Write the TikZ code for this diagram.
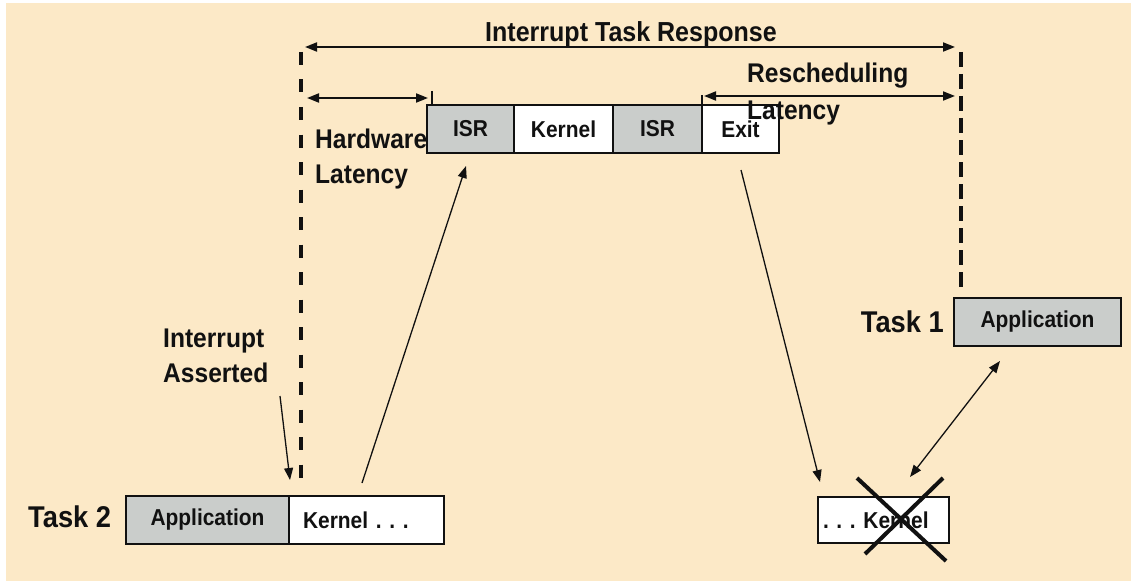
\documentclass[tikz,border=0pt]{standalone}
\usepackage{fontspec}
\setmainfont{Liberation Sans}[FakeStretch=0.91]
\usetikzlibrary{arrows.meta}
\definecolor{paper}{RGB}{252,233,199}
\definecolor{shade}{RGB}{202,205,203}
\definecolor{ink}{RGB}{17,17,17}
\frenchspacing

\begin{document}
\begin{tikzpicture}[x=1pt,y=-1pt,
  lab/.style={font=\fontsize{27}{31}\selectfont\bfseries, inner sep=0pt, text=ink},
  task/.style={font=\fontsize{30}{34}\selectfont\bfseries, inner sep=0pt, text=ink},
  cell/.style={draw=ink, line width=1.6pt, inner sep=0pt, outer sep=0pt, anchor=north west,
    minimum height=48pt, font=\fontsize{23}{26}\selectfont\bfseries, text=ink},
  grey/.style={cell, fill=shade},
  plain/.style={cell, fill=white},
  span/.style={{Triangle[length=12pt,width=9pt]}-{Triangle[length=12pt,width=9pt]},
    line width=1.8pt, draw=ink},
  flow/.style={-{Triangle[length=12pt,width=9pt]}, line width=1.3pt, draw=ink},
  both/.style={{Triangle[length=12pt,width=9pt]}-{Triangle[length=12pt,width=9pt]},
    line width=1.3pt, draw=ink},
  tick/.style={line width=2.5pt, draw=ink},
  cross/.style={line width=4pt, draw=ink}
]
\useasboundingbox (0,0) rectangle (1131,583);
\fill[paper] (6,3) rectangle (1131,581);

% time markers
\coordinate (lt) at (301,52);
\coordinate (lb) at (301,484);
\coordinate (rt) at (961,52);
\coordinate (rb) at (961,290);
\draw[line width=4pt, draw=ink, dash pattern=on 13pt off 14.5pt] (lt) -- (lb);
\draw[line width=3.4pt, draw=ink, dash pattern=on 15pt off 7pt] (rt) -- (rb);

% interrupt service sequence
\node[grey,  minimum width=87pt] (isrA) at (427,105) {ISR};
\node[plain, minimum width=99pt] (kern) at (isrA.north east) {Kernel};
\node[grey,  minimum width=89pt] (isrB) at (kern.north east) {ISR};
\node[plain, minimum width=77pt] (exit) at (isrB.north east) {Exit};

% task 2
\node[grey,  minimum width=163pt] (appB) at (126,496) {Application};
\node[plain, minimum width=155pt, text width=127pt, inner xsep=14pt, align=left]
  (kernB) at (appB.north east) {Kernel . . .};
\node[task, anchor=base west] (taskB) at (28,527) {Task 2};

% task 1
\node[grey, minimum width=167pt] (appA) at (954,298) {Application};
\node[task, anchor=base east] (taskA) at (944,332) {Task 1};

% pre-empted kernel
\node[plain, minimum width=131pt, minimum height=46pt, text width=121pt,
  inner xsep=5pt, align=left] (kernA) at (818,497) {. . . Kernel};

% interval spans
\coordinate (sA) at (305,47);
\coordinate (sB) at (955,47);
\draw[span] (sA) -- (sB);
\coordinate (hA) at (307,98);
\coordinate (hB) at (428,98);
\draw[span] (hA) -- (hB);
\coordinate (rA) at (704,96);
\coordinate (rB) at (955,96);
\draw[span] (rA) -- (rB);
\coordinate (tkA) at (432,91);
\draw[tick] (tkA) -- (tkA |- isrA.north);
\coordinate (tkB) at (702,95);
\draw[tick] (tkB) -- (tkB |- isrB.north);

% labels
\node[lab, font=\fontsize{27.5}{31}\selectfont\bfseries, anchor=base] (itr) at (631,42) {Interrupt Task Response};
\node[lab, anchor=base west] (rsA) at (747,83) {Rescheduling};
\node[lab, anchor=base west] (rsB) at (747,120) {Latency};
\node[lab, anchor=base west] (hwA) at (315,148) {Hardware};
\node[lab, anchor=base west] (hwB) at (315,183) {Latency};
\node[lab, anchor=base west] (iaA) at (163,347) {Interrupt};
\node[lab, anchor=base west] (iaB) at (163,382) {Asserted};

% control flow
\coordinate (ia) at (280,396);
\coordinate (iaTip) at (290,480);
\draw[flow] (ia) -- (iaTip);
\coordinate (kb) at (362,483);
\coordinate (kbTip) at (466,166);
\draw[flow] (kb) -- (kbTip);
\coordinate (ex) at (741,170);
\coordinate (exTip) at (820,482);
\draw[flow] (ex) -- (exTip);
\coordinate (swA) at (910,477);
\coordinate (swB) at (1000,361);
\draw[both] (swA) -- (swB);

% kernel path removed
\coordinate (xA) at (857,478);
\coordinate (xB) at (946,561);
\coordinate (xC) at (943,478);
\coordinate (xD) at (865,554);
\draw[cross] (xA) -- (xB);
\draw[cross] (xC) -- (xD);
\end{tikzpicture}
\end{document}
